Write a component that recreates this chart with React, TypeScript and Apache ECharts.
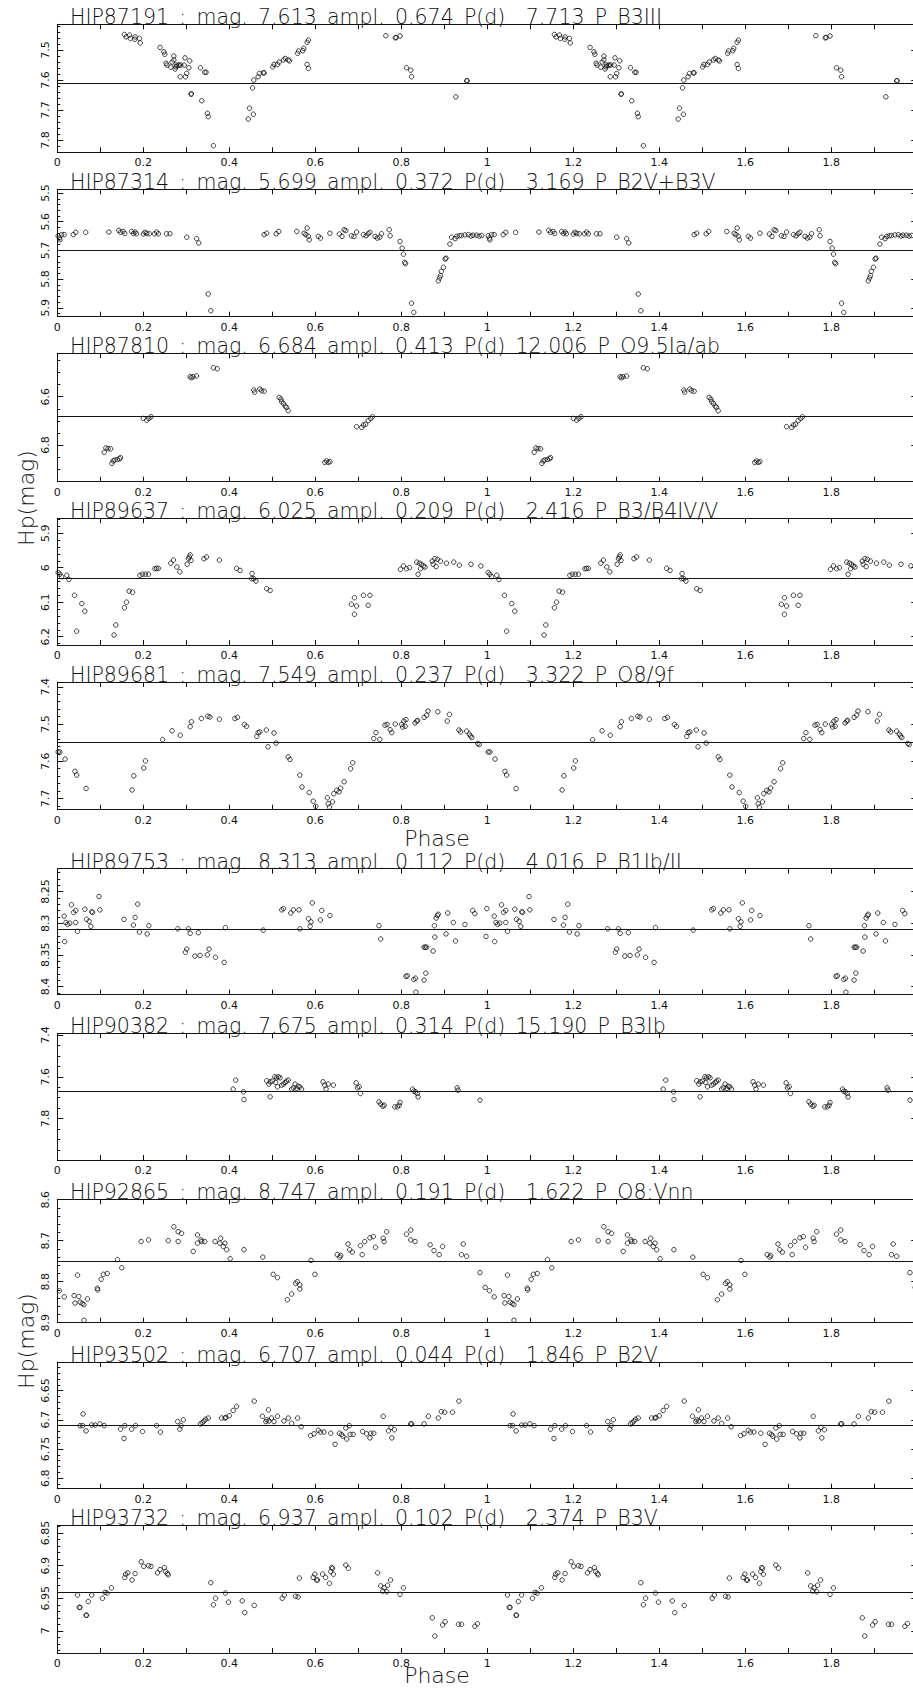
import React, { useEffect, useRef } from 'react';
import * as echarts from 'echarts';

// ---- Hipparcos light curves, folded on phase (phase, Hp magnitude) ----
const hip87191 = [
  [0.156, 7.448], [0.160, 7.456], [0.168, 7.450], [0.170, 7.461], [0.181, 7.456], [0.180, 7.464], [0.191, 7.461], [0.193, 7.476],
  [0.239, 7.491], [0.248, 7.506], [0.250, 7.514], [0.253, 7.544], [0.255, 7.550], [0.264, 7.557], [0.267, 7.540], [0.271, 7.520], [0.271, 7.533],
  [0.274, 7.563], [0.276, 7.556], [0.277, 7.550], [0.281, 7.551], [0.284, 7.550], [0.287, 7.550], [0.286, 7.589], [0.295, 7.550], [0.297, 7.526],
  [0.298, 7.589], [0.301, 7.578], [0.306, 7.559], [0.308, 7.536], [0.311, 7.647], [0.312, 7.646],
  [0.333, 7.559], [0.336, 7.669], [0.343, 7.574], [0.346, 7.574], [0.349, 7.711], [0.351, 7.722], [0.363, 7.819],
  [0.444, 7.730], [0.447, 7.694], [0.456, 7.714], [0.454, 7.626], [0.457, 7.600], [0.467, 7.589], [0.470, 7.578], [0.479, 7.576], [0.481, 7.576],
  [0.501, 7.556], [0.504, 7.548], [0.512, 7.548], [0.516, 7.540], [0.526, 7.533], [0.530, 7.528], [0.537, 7.533], [0.540, 7.536],
  [0.559, 7.511], [0.561, 7.503], [0.571, 7.502], [0.573, 7.494], [0.581, 7.474], [0.584, 7.467], [0.581, 7.548], [0.584, 7.561],
  [0.764, 7.452], [0.786, 7.459], [0.788, 7.458], [0.797, 7.453], [0.812, 7.559], [0.822, 7.567], [0.824, 7.589],
  [0.927, 7.656], [0.952, 7.603], [0.953, 7.602],
];

const hip87314 = [
  [0.002, 5.649], [0.005, 5.657], [0.006, 5.663], [0.010, 5.645], [0.016, 5.645], [0.037, 5.645], [0.043, 5.637], [0.066, 5.637], [0.120, 5.636],
  [0.143, 5.630], [0.147, 5.637], [0.153, 5.634], [0.157, 5.641], [0.173, 5.634], [0.177, 5.641], [0.181, 5.636], [0.184, 5.642],
  [0.200, 5.643], [0.204, 5.637], [0.208, 5.641], [0.214, 5.642], [0.226, 5.642], [0.231, 5.636], [0.235, 5.642], [0.254, 5.642], [0.262, 5.642],
  [0.301, 5.654], [0.324, 5.659], [0.329, 5.674], [0.351, 5.852], [0.357, 5.910],
  [0.481, 5.645], [0.487, 5.640], [0.509, 5.642], [0.515, 5.634], [0.557, 5.634],
  [0.574, 5.640], [0.578, 5.645], [0.581, 5.622], [0.584, 5.651], [0.586, 5.663], [0.607, 5.651], [0.612, 5.657], [0.634, 5.640],
  [0.656, 5.643], [0.662, 5.651], [0.667, 5.628], [0.671, 5.631], [0.684, 5.649], [0.690, 5.651], [0.696, 5.636],
  [0.712, 5.645], [0.718, 5.649], [0.723, 5.642], [0.727, 5.637], [0.739, 5.651], [0.744, 5.657], [0.750, 5.654], [0.754, 5.642],
  [0.772, 5.628], [0.774, 5.649], [0.797, 5.669], [0.802, 5.692], [0.805, 5.713], [0.808, 5.742], [0.810, 5.746], [0.824, 5.884], [0.829, 5.916],
  [0.886, 5.806], [0.889, 5.796], [0.891, 5.788], [0.893, 5.773], [0.898, 5.759], [0.902, 5.730], [0.904, 5.727],
  [0.913, 5.678], [0.917, 5.654], [0.925, 5.659], [0.929, 5.651], [0.935, 5.649], [0.940, 5.648], [0.948, 5.646], [0.956, 5.645],
  [0.962, 5.650], [0.967, 5.647], [0.975, 5.647], [0.981, 5.650], [0.987, 5.648],
];

const hip87810 = [
  [0.109, 6.830], [0.113, 6.812], [0.118, 6.815], [0.124, 6.816],
  [0.127, 6.876], [0.130, 6.866], [0.134, 6.862], [0.140, 6.860], [0.145, 6.857], [0.147, 6.852],
  [0.200, 6.690], [0.208, 6.697], [0.213, 6.690], [0.218, 6.683],
  [0.309, 6.517], [0.312, 6.521], [0.316, 6.517], [0.324, 6.514],
  [0.363, 6.480], [0.372, 6.484],
  [0.457, 6.572], [0.459, 6.581], [0.471, 6.568], [0.475, 6.575], [0.481, 6.577],
  [0.516, 6.603], [0.520, 6.610], [0.522, 6.621], [0.526, 6.628], [0.530, 6.639], [0.533, 6.644], [0.537, 6.658],
  [0.622, 6.872], [0.626, 6.866], [0.630, 6.872], [0.634, 6.869],
  [0.696, 6.724], [0.708, 6.727], [0.712, 6.717], [0.717, 6.714], [0.723, 6.699], [0.729, 6.690], [0.733, 6.683],
];

const hip89637 = [
  [0.002, 6.014], [0.006, 6.019], [0.010, 6.026], [0.022, 6.022], [0.027, 6.034], [0.040, 6.080], [0.045, 6.184], [0.057, 6.104], [0.064, 6.126],
  [0.132, 6.195], [0.136, 6.166], [0.156, 6.116], [0.161, 6.100], [0.167, 6.068], [0.175, 6.071],
  [0.192, 6.022], [0.198, 6.019], [0.205, 6.019], [0.212, 6.019], [0.227, 6.003], [0.231, 6.002], [0.235, 6.002],
  [0.264, 5.987], [0.270, 5.978], [0.278, 5.998], [0.285, 6.012], [0.302, 5.990], [0.305, 5.974], [0.307, 5.969], [0.309, 5.963], [0.311, 5.979],
  [0.341, 5.974], [0.347, 5.969], [0.377, 5.978], [0.417, 6.002], [0.425, 6.008],
  [0.453, 6.017], [0.452, 6.032], [0.457, 6.032], [0.462, 6.039], [0.487, 6.061], [0.495, 6.066],
  [0.684, 6.106], [0.691, 6.087], [0.696, 6.111], [0.691, 6.135], [0.712, 6.080], [0.727, 6.080], [0.723, 6.109],
  [0.798, 6.005], [0.805, 5.995], [0.812, 6.003], [0.819, 6.000],
  [0.836, 5.984], [0.842, 5.987], [0.847, 5.990], [0.851, 5.995], [0.855, 5.998], [0.839, 6.019], [0.845, 6.003],
  [0.872, 5.981], [0.878, 5.974], [0.884, 5.976], [0.891, 5.981], [0.874, 5.990], [0.881, 5.997],
  [0.905, 5.987], [0.922, 5.984], [0.935, 5.993], [0.962, 5.990], [0.985, 5.995],
];

const hip89681 = [
  [0.002, 7.575], [0.006, 7.575], [0.018, 7.594], [0.041, 7.627], [0.045, 7.637], [0.067, 7.673],
  [0.174, 7.677], [0.178, 7.639], [0.201, 7.618], [0.205, 7.599], [0.245, 7.542], [0.267, 7.518], [0.286, 7.530], [0.309, 7.507], [0.312, 7.494],
  [0.335, 7.485], [0.350, 7.479], [0.355, 7.481], [0.377, 7.487], [0.413, 7.485], [0.419, 7.482], [0.435, 7.501], [0.440, 7.506],
  [0.464, 7.533], [0.467, 7.523], [0.471, 7.521], [0.486, 7.516], [0.490, 7.561], [0.504, 7.524], [0.509, 7.551],
  [0.537, 7.588], [0.541, 7.595], [0.564, 7.637], [0.569, 7.669], [0.586, 7.684], [0.595, 7.707], [0.601, 7.721],
  [0.628, 7.698], [0.630, 7.714], [0.633, 7.723], [0.640, 7.709], [0.643, 7.687], [0.650, 7.678], [0.655, 7.682], [0.659, 7.672], [0.667, 7.655],
  [0.682, 7.620], [0.687, 7.604],
  [0.736, 7.539], [0.741, 7.523], [0.750, 7.541], [0.762, 7.503], [0.767, 7.501], [0.774, 7.515], [0.778, 7.523], [0.786, 7.500],
  [0.801, 7.501], [0.803, 7.508], [0.806, 7.492], [0.809, 7.506], [0.811, 7.488], [0.832, 7.497], [0.836, 7.492], [0.838, 7.490],
  [0.853, 7.482], [0.859, 7.476], [0.862, 7.465], [0.885, 7.467], [0.907, 7.492], [0.912, 7.474],
  [0.934, 7.516], [0.938, 7.521], [0.952, 7.519], [0.958, 7.527], [0.961, 7.532], [0.964, 7.536], [0.978, 7.552], [0.981, 7.555],
];

const hip89753 = [
  [0.016, 8.289], [0.017, 8.329], [0.020, 8.299], [0.024, 8.302], [0.029, 8.300], [0.033, 8.271], [0.038, 8.283], [0.043, 8.280], [0.043, 8.299], [0.047, 8.313],
  [0.064, 8.278], [0.068, 8.294], [0.074, 8.297], [0.078, 8.305], [0.080, 8.282], [0.082, 8.283], [0.097, 8.258], [0.099, 8.279],
  [0.155, 8.294], [0.177, 8.303], [0.181, 8.291], [0.187, 8.270], [0.191, 8.314], [0.209, 8.317], [0.213, 8.304],
  [0.280, 8.309], [0.298, 8.346], [0.301, 8.341], [0.305, 8.309], [0.309, 8.316], [0.320, 8.352], [0.328, 8.315], [0.332, 8.351],
  [0.349, 8.350], [0.353, 8.341], [0.368, 8.354], [0.388, 8.362], [0.391, 8.307],
  [0.479, 8.311], [0.522, 8.279], [0.526, 8.277], [0.543, 8.284], [0.549, 8.279], [0.562, 8.279], [0.564, 8.309],
  [0.584, 8.293], [0.588, 8.305], [0.590, 8.298], [0.593, 8.268], [0.612, 8.295], [0.615, 8.280], [0.634, 8.288],
  [0.748, 8.304], [0.752, 8.325],
  [0.811, 8.384], [0.814, 8.383], [0.829, 8.389], [0.833, 8.387], [0.834, 8.409], [0.853, 8.390], [0.857, 8.379],
  [0.853, 8.338], [0.856, 8.338], [0.859, 8.338], [0.874, 8.344], [0.877, 8.304], [0.878, 8.322], [0.881, 8.292], [0.884, 8.288], [0.886, 8.286],
  [0.904, 8.317], [0.908, 8.284], [0.921, 8.299], [0.926, 8.328], [0.948, 8.302], [0.966, 8.280], [0.971, 8.285], [0.997, 8.321], [0.999, 8.277],
];

const hip90382 = [
  [0.409, 7.659], [0.415, 7.616], [0.433, 7.672], [0.434, 7.709],
  [0.487, 7.619], [0.492, 7.635], [0.495, 7.624], [0.500, 7.621], [0.495, 7.696],
  [0.506, 7.600], [0.510, 7.605], [0.514, 7.600], [0.518, 7.605], [0.508, 7.627], [0.512, 7.648],
  [0.522, 7.640], [0.526, 7.635], [0.530, 7.627], [0.533, 7.621], [0.537, 7.616],
  [0.545, 7.659], [0.549, 7.653], [0.553, 7.635], [0.557, 7.656], [0.560, 7.645], [0.564, 7.648], [0.568, 7.659],
  [0.618, 7.624], [0.622, 7.640], [0.625, 7.659], [0.630, 7.635], [0.642, 7.640],
  [0.695, 7.629], [0.698, 7.653], [0.702, 7.648], [0.705, 7.680],
  [0.748, 7.720], [0.752, 7.731], [0.757, 7.741], [0.760, 7.736], [0.785, 7.744], [0.791, 7.744], [0.795, 7.736], [0.797, 7.723],
  [0.826, 7.659], [0.829, 7.669], [0.833, 7.672], [0.837, 7.680], [0.839, 7.696],
  [0.930, 7.653], [0.932, 7.664], [0.983, 7.712],
];

const hip92865 = [
  [0.005, 8.822], [0.016, 8.837], [0.039, 8.834], [0.041, 8.852], [0.047, 8.784], [0.050, 8.836], [0.053, 8.850], [0.058, 8.853], [0.062, 8.856], [0.062, 8.894], [0.070, 8.842],
  [0.093, 8.816], [0.094, 8.820], [0.102, 8.794], [0.107, 8.782], [0.116, 8.780], [0.140, 8.746], [0.150, 8.766],
  [0.195, 8.702], [0.212, 8.698], [0.258, 8.700], [0.271, 8.666], [0.281, 8.678], [0.281, 8.702], [0.289, 8.682],
  [0.316, 8.726], [0.326, 8.686], [0.326, 8.706], [0.334, 8.698], [0.336, 8.702], [0.343, 8.702],
  [0.367, 8.702], [0.378, 8.706], [0.380, 8.694], [0.386, 8.714], [0.390, 8.706], [0.394, 8.722], [0.402, 8.744], [0.434, 8.722], [0.478, 8.740],
  [0.502, 8.782], [0.512, 8.790], [0.535, 8.844], [0.545, 8.830], [0.554, 8.804], [0.558, 8.800], [0.564, 8.808], [0.564, 8.818],
  [0.590, 8.748], [0.599, 8.782],
  [0.651, 8.734], [0.657, 8.740], [0.659, 8.736], [0.676, 8.708], [0.680, 8.722], [0.686, 8.728],
  [0.705, 8.712], [0.709, 8.734], [0.715, 8.702], [0.727, 8.693], [0.735, 8.690], [0.740, 8.716], [0.758, 8.694], [0.760, 8.702], [0.766, 8.678],
  [0.812, 8.684], [0.822, 8.674], [0.822, 8.698], [0.832, 8.702], [0.867, 8.710], [0.876, 8.724], [0.888, 8.734], [0.896, 8.714],
  [0.940, 8.734], [0.944, 8.708], [0.952, 8.738], [0.983, 8.778], [0.995, 8.814],
];

const hip93502 = [
  [0.053, 6.710], [0.059, 6.710], [0.060, 6.690], [0.067, 6.719], [0.080, 6.709], [0.088, 6.709], [0.099, 6.707], [0.109, 6.710],
  [0.147, 6.716], [0.155, 6.732], [0.157, 6.710], [0.173, 6.716], [0.182, 6.710], [0.198, 6.720], [0.231, 6.710], [0.240, 6.721],
  [0.280, 6.703], [0.285, 6.716], [0.288, 6.710], [0.293, 6.700],
  [0.333, 6.707], [0.337, 6.705], [0.341, 6.702], [0.345, 6.699], [0.351, 6.697],
  [0.382, 6.697], [0.390, 6.697], [0.392, 6.696], [0.400, 6.693], [0.409, 6.684], [0.417, 6.677], [0.458, 6.668],
  [0.477, 6.694], [0.485, 6.703], [0.487, 6.700], [0.491, 6.683], [0.492, 6.702], [0.498, 6.697], [0.504, 6.703], [0.512, 6.694],
  [0.527, 6.702], [0.537, 6.697], [0.545, 6.706], [0.559, 6.697], [0.567, 6.712],
  [0.589, 6.727], [0.597, 6.724], [0.607, 6.718], [0.612, 6.721], [0.620, 6.721], [0.636, 6.723], [0.646, 6.742],
  [0.656, 6.723], [0.661, 6.725], [0.664, 6.728], [0.671, 6.714], [0.673, 6.733], [0.679, 6.710], [0.681, 6.725], [0.688, 6.725],
  [0.710, 6.720], [0.719, 6.724], [0.727, 6.731], [0.729, 6.723], [0.736, 6.723],
  [0.758, 6.694], [0.770, 6.719], [0.776, 6.713], [0.778, 6.731], [0.784, 6.717],
  [0.822, 6.707], [0.824, 6.707], [0.853, 6.707], [0.863, 6.694], [0.886, 6.697], [0.893, 6.686], [0.901, 6.687], [0.919, 6.687], [0.934, 6.668],
];

const hip93732 = [
  [0.047, 6.945], [0.051, 6.964], [0.053, 6.964], [0.067, 6.976], [0.068, 6.976], [0.072, 6.955], [0.080, 6.945],
  [0.105, 6.950], [0.111, 6.941], [0.116, 6.942], [0.126, 6.934],
  [0.157, 6.918], [0.159, 6.913], [0.164, 6.911], [0.174, 6.922], [0.181, 6.912], [0.195, 6.894], [0.201, 6.901], [0.212, 6.900], [0.218, 6.901],
  [0.233, 6.911], [0.239, 6.906], [0.249, 6.903], [0.252, 6.909], [0.256, 6.912], [0.258, 6.914],
  [0.357, 6.926], [0.363, 6.960], [0.368, 6.950], [0.391, 6.942], [0.398, 6.956], [0.430, 6.954], [0.436, 6.972], [0.458, 6.961],
  [0.523, 6.950], [0.528, 6.945], [0.554, 6.947], [0.560, 6.948], [0.563, 6.919],
  [0.595, 6.918], [0.599, 6.913], [0.603, 6.922], [0.605, 6.922], [0.617, 6.913], [0.624, 6.918],
  [0.633, 6.927], [0.636, 6.909], [0.638, 6.903], [0.640, 6.904], [0.642, 6.913], [0.671, 6.899], [0.677, 6.904],
  [0.745, 6.911], [0.752, 6.931], [0.757, 6.939], [0.760, 6.934], [0.766, 6.940], [0.768, 6.930], [0.775, 6.922], [0.797, 6.944], [0.805, 6.934],
  [0.872, 6.980], [0.878, 7.008], [0.896, 6.991], [0.902, 6.986], [0.933, 6.990], [0.940, 6.990], [0.971, 6.993], [0.977, 6.989],
];

const curves = [hip87191, hip87314, hip87810, hip89637, hip89681, hip89753, hip90382, hip92865, hip93502, hip93732];

// ---- catalogue values shown in the panel headers ----
const starIds = ['HIP87191', 'HIP87314', 'HIP87810', 'HIP89637', 'HIP89681', 'HIP89753', 'HIP90382', 'HIP92865', 'HIP93502', 'HIP93732'];
const meanMag = [7.613, 5.699, 6.684, 6.025, 7.549, 8.313, 7.675, 8.747, 6.707, 6.937];
const amplitude = [0.674, 0.372, 0.413, 0.209, 0.237, 0.112, 0.314, 0.191, 0.044, 0.102];
const periodDays = [7.713, 3.169, 12.006, 2.416, 3.322, 4.016, 15.19, 1.622, 1.846, 2.374];
const spectralType = ['B3III', 'B2V+B3V', 'O9.5Ia/ab', 'B3/B4IV/V', 'O8/9f', 'B1Ib/II', 'B3Ib', 'O8:Vnn', 'B2V', 'B3V'];

// ---- magnitude axes: [top of panel, bottom of panel] (axis is inverted) ----
const magRange = [
  [7.414, 7.841], [5.487, 5.931], [6.42, 6.952], [5.857, 6.224], [7.387, 7.73],
  [8.214, 8.413], [7.392, 7.998], [8.599, 8.9], [6.601, 6.818], [6.838, 7.034],
];
const magTickLabels = [
  [7.5, 7.6, 7.7, 7.8], [5.5, 5.6, 5.7, 5.8, 5.9], [6.6, 6.8], [5.9, 6, 6.1, 6.2], [7.4, 7.5, 7.6, 7.7],
  [8.25, 8.3, 8.35, 8.4], [7.4, 7.6, 7.8], [8.6, 8.7, 8.8, 8.9], [6.65, 6.7, 6.75, 6.8], [6.85, 6.9, 6.95, 7],
];
const magMinorStep = [0.02, 0.02, 0.05, 0.02, 0.02, 0.01, 0.05, 0.02, 0.01, 0.01];

// ---- layout ----
const W = 913;
const H = 1693;
const PLOT_LEFT = 57.3;
const PX_PER_PHASE = 430;
const PHASE_MAX = 2;
const panelTop = [24.3, 189.3, 353.3, 518.3, 682, 868.7, 1033.3, 1199.3, 1362, 1525.3];
const panelBottom = [152.3, 316.7, 481.7, 645, 809.7, 994.7, 1160, 1322.7, 1488.7, 1653];
const INK = '#111';
const FONT = '"DejaVu Sans", "Liberation Sans", sans-serif';

function headerText(i: number): string {
  const raw = `${starIds[i]} : mag. ${meanMag[i].toFixed(3)} ampl. ${amplitude[i].toFixed(3)} P(d) ${periodDays[i]
    .toFixed(3)
    .padStart(6, ' ')} P ${spectralType[i]}`;
  // the plotting font has wide blanks; an en space per blank keeps the spacing
  return raw.replace(/ /g, '\u2002');
}

function minorValues(lo: number, hi: number, step: number): number[] {
  const out: number[] = [];
  const start = Math.ceil(lo / step - 1e-6);
  const end = Math.floor(hi / step + 1e-6);
  for (let k = start; k <= end; k++) out.push(+(k * step).toFixed(4));
  return out;
}

function buildOption() {
  const grid: any[] = [];
  const xAxis: any[] = [];
  const yAxis: any[] = [];
  const series: any[] = [];
  const graphic: any[] = [];

  const axisLine = { show: true, onZero: false, lineStyle: { color: INK, width: 1 } };

  curves.forEach((curve, i) => {
    const top = panelTop[i];
    const height = panelBottom[i] - top;
    grid.push({
      left: PLOT_LEFT,
      top,
      width: PX_PER_PHASE * PHASE_MAX,
      height,
      containLabel: false,
      outerBoundsMode: 'none',
    });

    const xBase = {
      gridIndex: i,
      type: 'value',
      min: 0,
      max: PHASE_MAX,
      interval: 0.1,
      axisLine,
      splitLine: { show: false },
      axisTick: { show: true, inside: true, length: 5, lineStyle: { color: INK, width: 1 } },
    };
    xAxis.push({
      ...xBase,
      position: 'bottom',
      axisLabel: {
        show: true,
        margin: 5,
        fontSize: 11,
        fontFamily: FONT,
        color: INK,
        formatter: (v: number) => {
          const t = Math.round(v * 10);
          // labels every 0.2; the phase-2 end of the frame falls past the page edge
          return t % 2 === 0 && t < 20 ? String(t / 10) : '';
        },
      },
    });
    xAxis.push({ ...xBase, position: 'top', axisLabel: { show: false } });

    const [lo, hi] = magRange[i];
    const yBase = {
      gridIndex: i,
      type: 'value',
      inverse: true,
      min: lo,
      max: hi,
      splitLine: { show: false },
    };
    // left axis: major ticks and labels
    yAxis.push({
      ...yBase,
      position: 'left',
      axisLine,
      axisTick: { show: true, inside: true, length: 6, customValues: magTickLabels[i], lineStyle: { color: INK, width: 1 } },
      axisLabel: {
        show: true,
        customValues: magTickLabels[i],
        rotate: 90,
        margin: 6,
        fontSize: 11,
        fontFamily: FONT,
        color: INK,
        formatter: (v: number) => String(+(+v).toFixed(3)),
      },
    });
    // left axis: minor ticks
    yAxis.push({
      ...yBase,
      position: 'left',
      axisLine: { show: false },
      axisLabel: { show: false },
      axisTick: { show: true, inside: true, length: 3, customValues: minorValues(lo, hi, magMinorStep[i]), lineStyle: { color: INK, width: 1 } },
    });
    // right frame
    yAxis.push({
      ...yBase,
      position: 'right',
      axisLine,
      axisLabel: { show: false },
      axisTick: { show: true, inside: true, length: 6, customValues: magTickLabels[i], lineStyle: { color: INK, width: 1 } },
    });

    const folded = curve.map((p) => [p[0], p[1]]).concat(curve.map((p) => [p[0] + 1, p[1]]));
    series.push({
      type: 'scatter',
      xAxisIndex: 2 * i,
      yAxisIndex: 3 * i,
      data: folded,
      symbol: 'circle',
      symbolSize: 4.5,
      silent: true,
      emphasis: { disabled: true },
      itemStyle: { color: 'rgba(0,0,0,0)', borderColor: INK, borderWidth: 1 },
      markLine: {
        silent: true,
        symbol: ['none', 'none'],
        label: { show: false },
        lineStyle: { color: INK, width: 1, type: 'solid' },
        data: [{ yAxis: meanMag[i] }],
      },
    });

    graphic.push({
      type: 'text',
      x: 70,
      y: top - 7.2,
      silent: true,
      style: {
        text: headerText(i),
        font: `200 20.5px ${FONT}`,
        fill: INK,
        textAlign: 'left',
        textVerticalAlign: 'middle',
        align: 'left',
        verticalAlign: 'middle',
      },
    });
  });

  const axisTitle = (text: string, x: number, y: number, rotation = 0) => ({
    type: 'text',
    x,
    y,
    rotation,
    silent: true,
    style: {
      text,
      font: `200 22px ${FONT}`,
      fill: INK,
      textAlign: 'center',
      textVerticalAlign: 'middle',
      align: 'center',
      verticalAlign: 'middle',
    },
  });
  graphic.push(axisTitle('Phase', 437, 838));
  graphic.push(axisTitle('Phase', 437, 1675));
  graphic.push(axisTitle('Hp(mag)', 26, 498, Math.PI / 2));
  graphic.push(axisTitle('Hp(mag)', 26, 1341, Math.PI / 2));

  return {
    animation: false,
    backgroundColor: '#fff',
    grid,
    xAxis,
    yAxis,
    series,
    graphic,
  };
}

export default function App() {
  const ref = useRef<HTMLDivElement>(null);
  useEffect(() => {
    if (!ref.current) return;
    const chart = echarts.init(ref.current, null, { renderer: 'svg', width: W, height: H });
    chart.setOption(buildOption());
    return () => chart.dispose();
  }, []);
  return (
    <div
      ref={ref}
      style={{ position: 'absolute', left: 0, top: 0, width: W, height: H, background: '#fff', overflow: 'hidden' }}
    />
  );
}
